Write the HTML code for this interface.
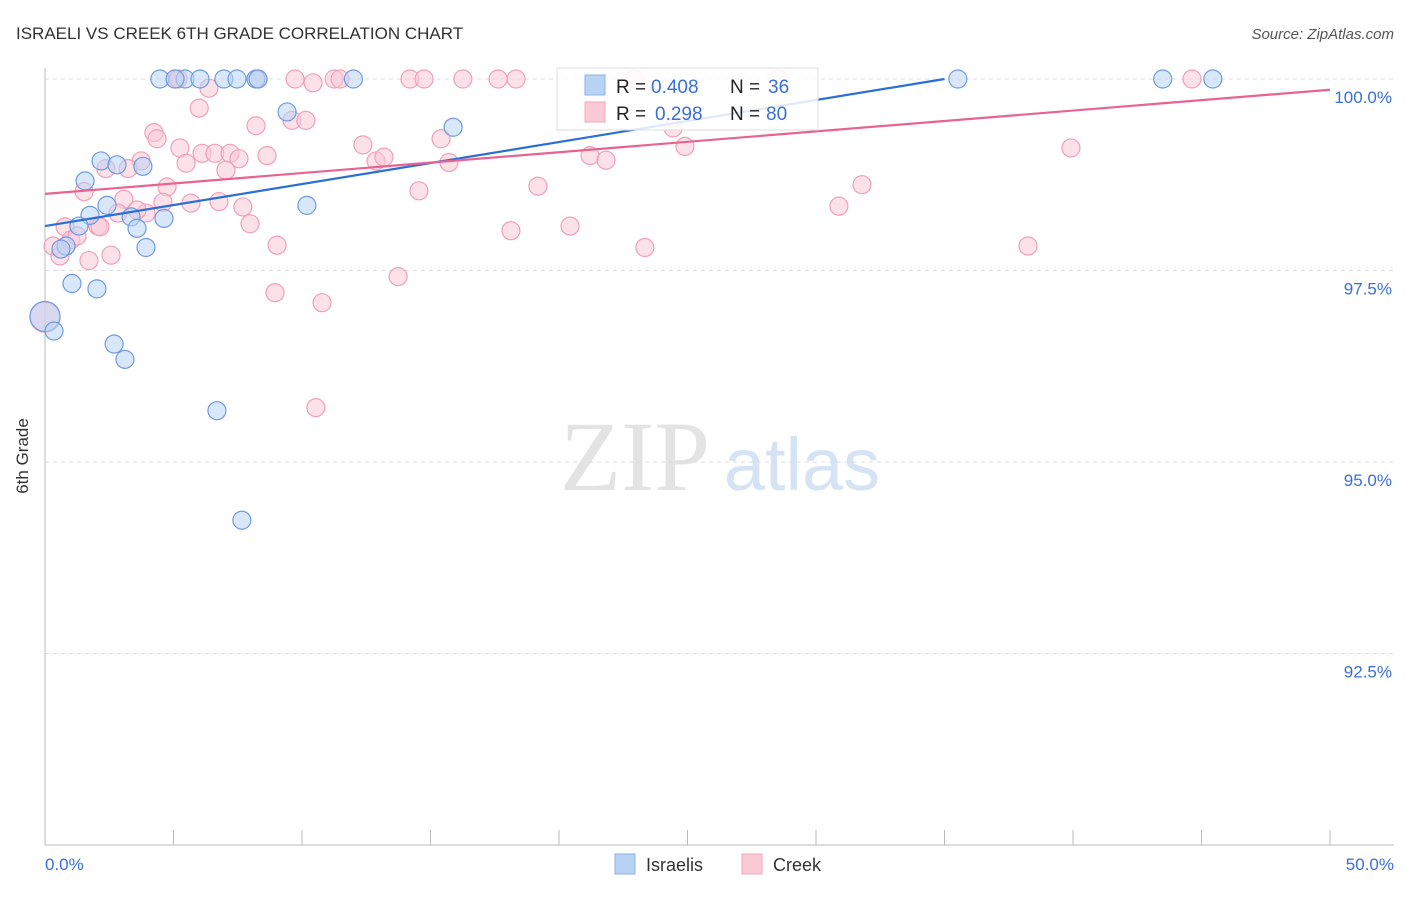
<!DOCTYPE html>
<html><head><meta charset="utf-8"><style>
body{margin:0;background:#fff;font-family:"Liberation Sans",sans-serif}
</style></head><body>
<svg width="1406" height="892" xmlns="http://www.w3.org/2000/svg">
<text x="16" y="39" font-size="17" fill="#333">ISRAELI VS CREEK 6TH GRADE CORRELATION CHART</text>
<text x="1394" y="39" font-size="15" fill="#555" font-style="italic" text-anchor="end">Source: ZipAtlas.com</text>
<text x="635" y="490" font-size="100" fill="#e3e3e3" font-family="Liberation Serif,serif" text-anchor="middle">ZIP</text>
<text x="802" y="490" font-size="74" fill="#d5e3f5" text-anchor="middle">atlas</text>
<g id="grid"></g>
<line x1="45" y1="68" x2="45" y2="845" stroke="#bbb"/>
<line x1="45" y1="845" x2="1394" y2="845" stroke="#bbb"/>
<g id="ticks"></g>
<text x="28" y="456" font-size="17" fill="#333" transform="rotate(-90 28 456)" text-anchor="middle">6th Grade</text>
<text x="45" y="870" font-size="17" fill="#3a6fd8">0.0%</text>
<text x="1394" y="870" font-size="17" fill="#3a6fd8" text-anchor="end">50.0%</text>
<g id="pts"></g>
<g id="lines"></g>
<g>
<rect x="557" y="68" width="261" height="62" fill="#fff" fill-opacity="0.85" stroke="#ddd"/>
<rect x="585" y="75" width="20" height="20" fill="#b9d3f5" stroke="#8bb1e8"/>
<rect x="585" y="102" width="20" height="20" fill="#fcc9d7" stroke="#f3a6bd"/>
<text x="616" y="93" font-size="19" fill="#222">R =</text>
<text x="651" y="93" font-size="19" fill="#3a6fd8">0.408</text>
<text x="730" y="93" font-size="19" fill="#222">N =</text>
<text x="768" y="93" font-size="19" fill="#3a6fd8">36</text>
<text x="616" y="120" font-size="19" fill="#222">R =</text>
<text x="655" y="120" font-size="19" fill="#3a6fd8">0.298</text>
<text x="730" y="120" font-size="19" fill="#222">N =</text>
<text x="766" y="120" font-size="19" fill="#3a6fd8">80</text>
</g>
<g>
<rect x="615" y="854" width="20" height="20" fill="#b9d3f5" stroke="#8bb1e8"/>
<text x="646" y="871" font-size="18" fill="#333">Israelis</text>
<rect x="742" y="854" width="20" height="20" fill="#fcc9d7" stroke="#f3a6bd"/>
<text x="773" y="871" font-size="18" fill="#333">Creek</text>
</g>
</svg>
<script>
const yTicks=[100,97.5,95,92.5];
const yTickLabels=["100.0%","97.5%","95.0%","92.5%"];
const xTicks=[0,5,10,15,20,25,30,35,40,45,50];
const blueX=[4.47,5.45,6.03,6.96,7.47,8.21,8.29,12.0,35.52,43.49,45.44,5.06,9.42,15.88,2.18,2.80,3.81,1.56,2.41,1.75,3.35,4.63,1.32,3.58,10.19,0.82,0.62,3.93,1.05,2.02,0.0,0.35,2.69,3.11,6.69,7.66];
const blueY=[100,100,100,100,100,100,100,100,100,100,100,100,99.57,99.37,98.93,98.88,98.86,98.67,98.35,98.22,98.2,98.18,98.08,98.05,98.35,97.82,97.78,97.8,97.33,97.26,96.9,96.71,96.54,96.34,95.67,94.24];
const blueR=[9,9,9,9,9,9,9,9,9,9,9,9,9,9,9,9,9,9,9,9,9,9,9,9,9,9,9,9,9,9,15,9,9,9,9,9];
const pinkX=[5.06,5.18,8.29,9.73,10.43,11.25,11.48,14.2,14.75,16.26,17.63,18.33,22.92,28.52,44.63,6.38,6.0,9.61,10.15,8.21,4.24,4.36,5.25,12.37,15.41,24.44,24.9,39.92,8.64,6.11,6.61,7.2,7.55,12.88,13.19,15.72,21.21,21.83,3.74,2.37,3.23,5.49,7.04,4.75,1.52,14.55,19.18,31.79,3.07,4.59,5.68,6.77,7.7,2.84,3.93,3.58,2.06,0.78,2.14,7.98,18.13,20.43,30.89,0.31,1.01,1.25,0.58,1.71,2.57,9.03,23.34,38.25,13.74,8.95,10.78,10.54,0.0];
const pinkY=[100,100,100,100,99.95,100,100,100,100,100,100,100,100,100,100,99.88,99.62,99.46,99.46,99.39,99.3,99.22,99.1,99.14,99.22,99.36,99.12,99.1,99.0,99.03,99.03,99.03,98.96,98.93,98.98,98.91,99.0,98.94,98.93,98.83,98.83,98.9,98.81,98.59,98.53,98.54,98.6,98.62,98.43,98.39,98.38,98.4,98.33,98.25,98.25,98.29,98.08,98.07,98.07,98.11,98.02,98.08,98.34,97.82,97.9,97.95,97.69,97.63,97.7,97.83,97.8,97.82,97.42,97.21,97.08,95.71,96.89];
const blueLine=[[0,98.08],[35.0,100]];
const pinkLine=[[0,98.5],[50,99.86]];
const NS="http://www.w3.org/2000/svg";
const xs=v=>45+v/50*1285, ys=v=>79+(100-v)/2.5*191.5;
function mk(t,a,p){const e=document.createElementNS(NS,t);for(const k in a)e.setAttribute(k,a[k]);document.getElementById(p).appendChild(e);return e;}
yTicks.forEach((t,i)=>{
 const g=mk('line',{x1:45,x2:1394,y1:ys(t),y2:ys(t),stroke:'#ddd','stroke-dasharray':'4,4'},'grid');
 
 
 const l=mk('text',{x:1392,y:ys(t)+24,'font-size':17,fill:'#3a6fd8','text-anchor':'end'},'grid');
 l.textContent=yTickLabels[i];
 
 
});
xTicks.forEach(t=>{
 const e=mk('line',{x1:xs(t),x2:xs(t),y1:830,y2:845,stroke:'#bbb'},'ticks');
 
 
});
pinkX.forEach((x,i)=>{
 const c=mk('circle',{cx:xs(x),cy:ys(pinkY[i]),r:i==pinkX.length-1?15:9,fill:'#fcc9d7','fill-opacity':0.55,stroke:'#f0a0b8','stroke-width':1.2},'pts');
 
 
});
blueX.forEach((x,i)=>{
 const c=mk('circle',{cx:xs(x),cy:ys(blueY[i]),r:blueR[i],fill:'#b9d3f5','fill-opacity':0.55,stroke:'#6f9be0','stroke-width':1.2},'pts');
 
 
});
const bl=mk('line',{x1:xs(blueLine[0][0]),y1:ys(blueLine[0][1]),x2:xs(blueLine[1][0]),y2:ys(blueLine[1][1]),stroke:'#2a6fd6','stroke-width':2.2},'lines');


const pl=mk('line',{x1:xs(pinkLine[0][0]),y1:ys(pinkLine[0][1]),x2:xs(pinkLine[1][0]),y2:ys(pinkLine[1][1]),stroke:'#e8638f','stroke-width':2.2},'lines');


</script>
</body></html>
